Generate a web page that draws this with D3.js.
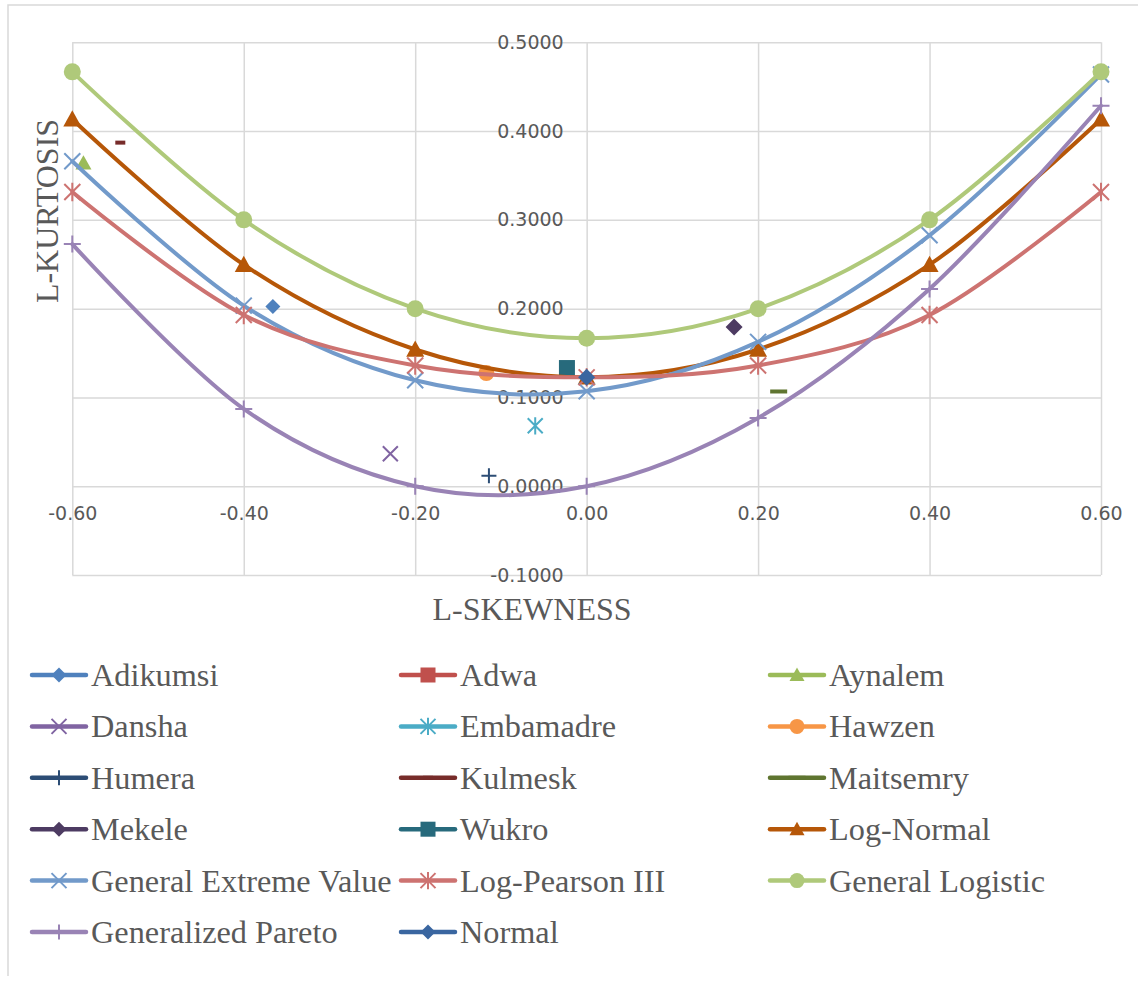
<!DOCTYPE html>
<html>
<head>
<meta charset="utf-8">
<script src="https://cdn.jsdelivr.net/npm/d3@7"></script>
<style>
  html, body { margin: 0; padding: 0; background: #fff; }
  svg { display: block; }
</style>
</head>
<body>
<svg id="chart" width="1138" height="981"></svg>
<script>
// L-moment ratio diagram: station points against theoretical distribution curves.

// L-skewness grid where the theoretical curves are tabulated
const skewGrid = [-0.6, -0.4, -0.2, 0.0, 0.2, 0.4, 0.6];

// Theoretical L-kurtosis values at each L-skewness
const logNormal      = [0.4133, 0.2495, 0.1540, 0.1228, 0.1540, 0.2495, 0.4133];
const genExtreme     = [0.3660, 0.2034, 0.1193, 0.1070, 0.1626, 0.2826, 0.4638];
const logPearson3    = [0.3314, 0.1929, 0.1360, 0.1226, 0.1360, 0.1929, 0.3314];
const genLogistic    = [0.4667, 0.3000, 0.2000, 0.1667, 0.2000, 0.3000, 0.4667];
const genPareto      = [0.2727, 0.0870, 0.0000, 0.0000, 0.0769, 0.2222, 0.4286];

// Normal distribution is a single point
const normalSkew = [0.0];
const normalKurt = [0.1226];

// Station sample L-moment ratios
const stationNames = ["Adikumsi", "Adwa", "Aynalem", "Dansha", "Embamadre", "Hawzen",
                      "Humera", "Kulmesk", "Maitsemry", "Mekele", "Wukro"];
const stationSkew  = [-0.366, null, -0.587, -0.229, -0.060, -0.117,
                      -0.114, -0.544, 0.224, 0.172, -0.023];
const stationKurt  = [0.2024, null, 0.3638, 0.0366, 0.0681, 0.1274,
                      0.0118, 0.3870, 0.1067, 0.1792, 0.1331];

// Axis ticks
const xTicks = [-0.6, -0.4, -0.2, 0.0, 0.2, 0.4, 0.6];
const yTicks = [-0.1, 0.0, 0.1, 0.2, 0.3, 0.4, 0.5];

// Series styling (colour + marker), in legend order
const stationStyle = {
  "Adikumsi":  { color: "#4F81BD", marker: "diamond", size: 15 },
  "Adwa":      { color: "#C0504D", marker: "square",  size: 15 },
  "Aynalem":   { color: "#9BBB59", marker: "triangle",size: 16 },
  "Dansha":    { color: "#8064A2", marker: "x",       size: 15 },
  "Embamadre": { color: "#4BACC6", marker: "star",    size: 15 },
  "Hawzen":    { color: "#F79646", marker: "circle",  size: 16 },
  "Humera":    { color: "#2C4D75", marker: "plus",    size: 15 },
  "Kulmesk":   { color: "#772C2A", marker: "dash",    size: 10 },
  "Maitsemry": { color: "#5F7530", marker: "dash",    size: 17 },
  "Mekele":    { color: "#4D3B62", marker: "diamond", size: 17 },
  "Wukro":     { color: "#276A7C", marker: "square",  size: 16 }
};

const curves = [
  { name: "Log-Normal",             values: logNormal,   color: "#B65708", marker: "triangle", size: 18 },
  { name: "General Extreme Value",  values: genExtreme,  color: "#729ACA", marker: "x",        size: 16 },
  { name: "Log-Pearson III",        values: logPearson3, color: "#CD7371", marker: "star",     size: 16 },
  { name: "General Logistic",       values: genLogistic, color: "#AFC97A", marker: "circle",   size: 17 },
  { name: "Generalized Pareto",     values: genPareto,   color: "#9983B5", marker: "plus",     size: 17 }
];
const normalStyle = { name: "Normal", color: "#3A66A0", marker: "diamond", size: 17 };

const svg = d3.select("#chart");
const textColor = "#595959";
const gridColor = "#D9D9D9";

// Chart frame
svg.append("path")
  .attr("d", "M8,976 L8,5 L1140,5")
  .attr("fill", "none").attr("stroke", gridColor).attr("stroke-width", 1.5);

const plot = { left: 72.3, right: 1101, top: 42.3, bottom: 575 };
const x = d3.scaleLinear().domain([-0.6, 0.6]).range([plot.left, plot.right]);
const y = d3.scaleLinear().domain([-0.1, 0.5]).range([plot.bottom, plot.top]);

// Plain hyphen-minus for negative tick labels
const hyphenFormat = spec => {
  const f = d3.format(spec);
  return v => f(v).replace("\u2212", "-");
};

// Gridlines
const gridX = svg.append("g")
  .attr("transform", `translate(0,${plot.bottom})`)
  .call(d3.axisBottom(x).tickValues(xTicks).tickSize(-(plot.bottom - plot.top)).tickFormat(""));
const gridY = svg.append("g")
  .attr("transform", `translate(${plot.left},0)`)
  .call(d3.axisLeft(y).tickValues(yTicks).tickSize(-(plot.right - plot.left)).tickFormat(""));
[gridX, gridY].forEach(g => {
  g.select(".domain").remove();
  g.selectAll("line").attr("stroke", gridColor).attr("stroke-width", 1.5);
});

// Tick labels, positioned along the zero axes
const xLab = svg.append("g")
  .attr("transform", `translate(0,${y(0)})`)
  .call(d3.axisBottom(x).tickValues(xTicks).tickSize(0).tickPadding(20).tickFormat(hyphenFormat(".2f")));
const yLab = svg.append("g")
  .attr("transform", `translate(${x(0)},0)`)
  .call(d3.axisLeft(y).tickValues(yTicks).tickSize(0).tickPadding(23).tickFormat(hyphenFormat(".4f")));
[xLab, yLab].forEach(g => {
  g.select(".domain").remove();
  g.selectAll("text")
    .attr("fill", textColor)
    .style("font-family", "'DejaVu Sans', sans-serif")
    .style("font-size", "19px");
});

// Axis titles
svg.append("text")
  .attr("transform", "translate(58,211) rotate(-90)")
  .attr("text-anchor", "middle")
  .attr("fill", textColor)
  .style("font-family", "'Liberation Serif', 'Times New Roman', serif")
  .style("font-size", "32px")
  .text("L-KURTOSIS");
svg.append("text")
  .attr("x", 532).attr("y", 620)
  .attr("text-anchor", "middle")
  .attr("fill", textColor)
  .style("font-family", "'Liberation Serif', 'Times New Roman', serif")
  .style("font-size", "32px")
  .text("L-SKEWNESS");

// Marker drawing
function drawMarker(g, cx, cy, type, size, color) {
  const h = size / 2;
  const m = g.append("g").attr("transform", `translate(${cx},${cy})`);
  switch (type) {
    case "diamond":
      m.append("path").attr("d", `M0,${-h} L${h},0 L0,${h} L${-h},0 Z`).attr("fill", color);
      break;
    case "square":
      m.append("rect").attr("x", -h).attr("y", -h).attr("width", size).attr("height", size).attr("fill", color);
      break;
    case "triangle":
      m.append("path").attr("d", `M0,${-h} L${h},${h * 0.8} L${-h},${h * 0.8} Z`).attr("fill", color);
      break;
    case "circle":
      m.append("circle").attr("r", h).attr("fill", color);
      break;
    case "x":
      m.append("path").attr("d", `M${-h},${-h} L${h},${h} M${-h},${h} L${h},${-h}`)
        .attr("stroke", color).attr("stroke-width", 2).attr("fill", "none");
      break;
    case "star":
      m.append("path").attr("d", `M${-h},${-h} L${h},${h} M${-h},${h} L${h},${-h} M0,${-h * 1.15} L0,${h * 1.15}`)
        .attr("stroke", color).attr("stroke-width", 2).attr("fill", "none");
      break;
    case "plus":
      m.append("path").attr("d", `M${-h},0 L${h},0 M0,${-h} L0,${h}`)
        .attr("stroke", color).attr("stroke-width", 2).attr("fill", "none");
      break;
    case "dash":
      m.append("rect").attr("x", -h).attr("y", -2).attr("width", size).attr("height", 4).attr("fill", color);
      break;
  }
}

const marks = svg.append("g");

// Station points
stationNames.forEach((name, i) => {
  if (stationSkew[i] == null) return;
  const s = stationStyle[name];
  drawMarker(marks, x(stationSkew[i]), y(stationKurt[i]), s.marker, s.size, s.color);
});

// Theoretical curves (smoothed) with markers
const line = d3.line()
  .x(d => x(d[0]))
  .y(d => y(d[1]))
  .curve(d3.curveCardinal.tension(0));

curves.forEach(c => {
  const pts = skewGrid.map((s, i) => [s, c.values[i]]);
  marks.append("path")
    .attr("d", line(pts))
    .attr("fill", "none")
    .attr("stroke", c.color)
    .attr("stroke-width", 4)
    .attr("stroke-linecap", "round");
  pts.forEach(p => drawMarker(marks, x(p[0]), y(p[1]), c.marker, c.size, c.color));
});

normalSkew.forEach((s, i) =>
  drawMarker(marks, x(s), y(normalKurt[i]), normalStyle.marker, normalStyle.size, normalStyle.color));

// Legend
const legendItems = stationNames.map(n => ({ name: n, ...stationStyle[n] }))
  .concat(curves.map(c => ({ name: c.name, color: c.color, marker: c.marker, size: c.size })))
  .concat([normalStyle]);

const colX = [32, 401, 770];
const rowY0 = 675, rowStep = 51.4;
const legend = svg.append("g");
legendItems.forEach((it, i) => {
  const cx = colX[i % 3];
  const cy = rowY0 + Math.floor(i / 3) * rowStep;
  legend.append("line")
    .attr("x1", cx).attr("x2", cx + 54)
    .attr("y1", cy).attr("y2", cy)
    .attr("stroke", it.color).attr("stroke-width", 4.5).attr("stroke-linecap", "round");
  const ls = it.marker === "dash" ? it.size : Math.min(it.size, 15);
  drawMarker(legend, cx + 27, cy, it.marker, ls, it.color);
  legend.append("text")
    .attr("x", cx + 59).attr("y", cy + 11)
    .attr("fill", textColor)
    .style("font-family", "'Liberation Serif', 'Times New Roman', serif")
    .style("font-size", "32.3px")
    .text(it.name);
});
</script>
</body>
</html>
